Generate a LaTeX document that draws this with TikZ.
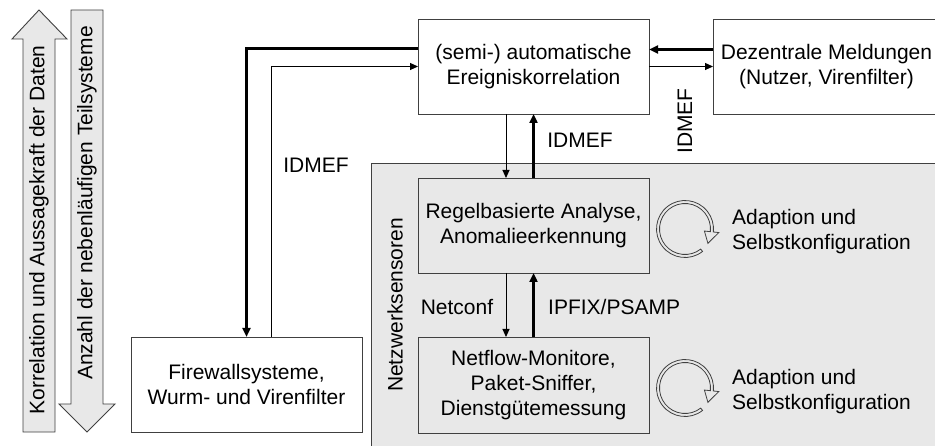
\documentclass[tikz,border=0pt]{standalone}
\usepackage{fontspec}
\setmainfont{Liberation Sans}
\usetikzlibrary{arrows.meta}
\definecolor{panelgray}{HTML}{E8E8E8}
\definecolor{edgegray}{HTML}{404040}
\tikzset{
  txt/.style={font=\fontsize{21}{25}\selectfont, align=center, inner sep=0pt},
  box/.style={draw=edgegray, line width=0.9pt, inner sep=0pt, outer sep=0pt,
              align=center, font=\fontsize{21}{25}\selectfont},
  whitebox/.style={box, fill=white},
  graybox/.style={box, fill=panelgray},
  thinline/.style={line width=1pt, -{Triangle[length=8pt,width=7pt]}},
  thickline/.style={line width=3pt, -{Triangle[length=9pt,width=8pt]}},
  bigarrow/.style={draw=edgegray, line width=0.9pt, fill=panelgray, line join=miter},
  cyclearrow/.pic={
    \begin{scope}[x=1pt, y=1pt]
      \draw[edgegray, line width=0.8pt, line join=miter]
        (-52:28.5) arc[start angle=-52, end angle=-366, radius=28.5]
        -- (-366:34) -- (-392:27) -- (-366:19.5) -- (-366:25.5)
        arc[start angle=-366, end angle=-52, radius=25.5] -- cycle;
    \end{scope}
  }
}
\begin{document}
\begin{tikzpicture}[x=1pt, y=-1pt]
  \useasboundingbox (0,0) rectangle (935,446);

  % panel of the network sensors
  \filldraw[fill=panelgray, draw=edgegray, line width=0.9pt]
    (371,163) rectangle (950,460);

  % vertical trend arrows
  \path[bigarrow] (23,432) -- (23,39) -- (12,39) -- (39,10) -- (67,39)
    -- (55,39) -- (55,432) -- cycle;
  \path[bigarrow] (71,10) -- (103,10) -- (103,404) -- (115,404) -- (87,432)
    -- (59,404) -- (71,404) -- cycle;
  \node[txt, rotate=90] (corr) at (39,230) {Korrelation und Aussagekraft der Daten};
  \node[txt, rotate=90] (count) at (87,203) {Anzahl der nebenläufigen Teilsysteme};

  % boxes
  \node[whitebox, minimum width=231pt, minimum height=95pt] (top) at (533.5,66.5)
    {(semi-) automatische\\Ereigniskorrelation};
  \node[whitebox, minimum width=231pt, minimum height=95pt] (dez) at (828.5,66.5)
    {\hspace*{-4pt}Dezentrale Meldungen\\\hspace*{-4pt}(Nutzer, Virenfilter)};
  \node[graybox, minimum width=231pt, minimum height=95pt] (regel) at (533.5,225.5)
    {Regelbasierte Analyse,\\Anomalieerkennung};
  \node[graybox, minimum width=231pt, minimum height=96pt] (netflow) at (533.5,385)
    {Netflow-Monitore,\\Paket-Sniffer,\\Dienstgütemessung};
  \node[whitebox, minimum width=231pt, minimum height=95pt] (fw) at (246.5,384.5)
    {Firewallsysteme,\\Wurm- und Virenfilter};

  % connectors
  \draw[thickline] ([yshift=17.5pt]top.west) -| (fw.north);
  \draw[thinline] ([xshift=24.5pt]fw.north) |- (top.west);
  \draw[thickline] ([yshift=17pt]dez.west) -- ([yshift=17pt]top.east);
  \draw[thinline] (top.east) -- (dez.west);
  \draw[thinline] ([xshift=-27.5pt]top.south) -- ([xshift=-27.5pt]regel.north);
  \draw[thickline] (regel.north) -- (top.south);
  \draw[thinline] ([xshift=-27.5pt]regel.south) -- ([xshift=-27.5pt]netflow.north);
  \draw[thickline] (netflow.north) -- (regel.south);

  % labels
  \node[txt] (l1) at (316,165) {IDMEF};
  \node[txt] (l2) at (580,140) {IDMEF};
  \node[txt, rotate=90] (l3) at (685,121) {IDMEF};
  \node[txt] (l4) at (457,307) {Netconf};
  \node[txt, anchor=west] (l5) at (548,307) {IPFIX/PSAMP};
  \node[txt, rotate=90] (sens) at (395,305) {Netzwerksensoren};

  % self configuration cycles
  \pic at (685,229) {cyclearrow};
  \pic at (685,388) {cyclearrow};
  \node[txt, anchor=west, align=left] (ad1) at (732,232) {Adaption und\\Selbstkonfiguration};
  \node[txt, anchor=west, align=left] (ad2) at (732,392) {Adaption und\\Selbstkonfiguration};
\end{tikzpicture}
\end{document}
